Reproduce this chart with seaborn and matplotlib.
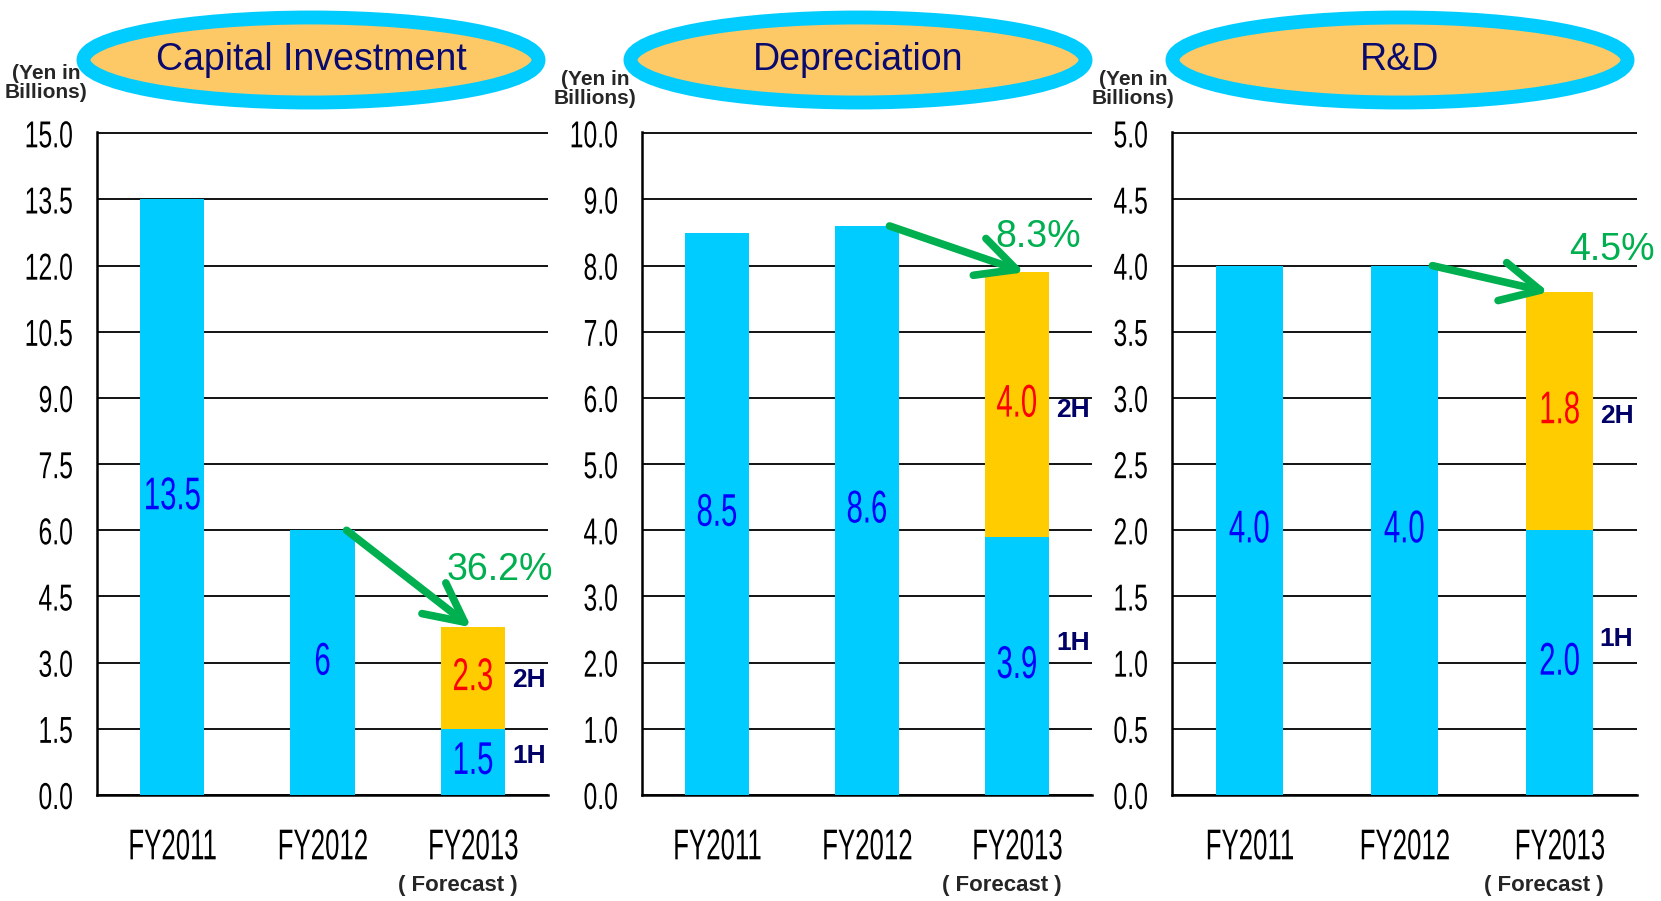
import numpy as np
import pandas as pd
import seaborn as sns
import matplotlib.pyplot as plt
from matplotlib.patches import Ellipse
from matplotlib.patheffects import AbstractPathEffect
from matplotlib.transforms import Affine2D

# ---- data ----
categories = ['FY2011', 'FY2012', 'FY2013']
titles = ['Capital Investment', 'Depreciation', 'R&D']

# full year for FY2011 / FY2012, first half for FY2013
capex_first = [13.5, 6.0, 1.5]
capex_second = [0.0, 0.0, 2.3]
capex_labels = ['13.5', '6', '1.5', '2.3']

depr_first = [8.5, 8.6, 3.9]
depr_second = [0.0, 0.0, 4.0]
depr_labels = ['8.5', '8.6', '3.9', '4.0']

rnd_first = [4.0, 4.0, 2.0]
rnd_second = [0.0, 0.0, 1.8]
rnd_labels = ['4.0', '4.0', '2.0', '1.8']

pct_change = ['36.2%', '8.3%', '4.5%']

y_max = [15.0, 10.0, 5.0]
y_step = [1.5, 1.0, 0.5]

# ---- style ----
CYAN = '#00ccff'
ORANGE = '#ffcc00'
ELLIPSE_FILL = '#fcc966'
NAVY = '#0a0a6e'
GREEN = '#00b050'
BLUE = '#0000ff'
RED = '#ff0000'

sns.set_style('white')
plt.rcParams['font.family'] = ['Liberation Sans', 'DejaVu Sans']
SANS = ['Liberation Sans', 'DejaVu Sans']


# numbers in the original use a tall, very condensed face:
# squeeze the glyphs horizontally when drawing
class Squeeze(AbstractPathEffect):
    def __init__(self, sx=0.6, anchor='center'):
        super().__init__()
        self.sx = sx
        self.anchor = anchor

    def draw_path(self, renderer, gc, tpath, affine, rgbFace=None):
        ext = tpath.get_extents(affine)
        cx = ext.x1 if self.anchor == 'right' else (ext.x0 + ext.x1) / 2
        aff = affine + Affine2D().translate(-cx, 0).scale(self.sx, 1).translate(cx, 0)
        renderer.draw_path(gc, tpath, aff, rgbFace)


SQ_TICK = [Squeeze(0.66, 'right')]
SQ_CAT = [Squeeze(0.6, 'center')]
SQ_VAL = [Squeeze(0.64, 'center')]

W, H = 1661, 901
fig = plt.figure(figsize=(W / 100, H / 100), dpi=100)

axes_px = [(97, 548), (642, 1092), (1172, 1637)]
top_px, bottom_px = 132, 795
ellipse_cx = [311, 858, 1400]
unit_pos = [(46, 83), (595, 89), (1133, 89)]
pct_pos = [(2.18, 5.11), (2.14, 8.43), (2.34, 4.12)]
arrow_x = [(1.16, 1.99), (1.15, 2.05), (1.18, 1.93)]

panels = [
    (capex_first, capex_second, capex_labels),
    (depr_first, depr_second, depr_labels),
    (rnd_first, rnd_second, rnd_labels),
]

for i, (first, second, labels) in enumerate(panels):
    l, r = axes_px[i]
    ax = fig.add_axes([l / W, 1 - bottom_px / H, (r - l) / W, (bottom_px - top_px) / H])

    df = pd.DataFrame({'period': categories,
                       'first': first,
                       'total': np.add(first, second)})

    sns.barplot(data=df, x='period', y='total', color=ORANGE, saturation=1,
                width=0.43, linewidth=0, ax=ax, zorder=2)
    sns.barplot(data=df, x='period', y='first', color=CYAN, saturation=1,
                width=0.43, linewidth=0, ax=ax, zorder=3)

    # axes look
    ax.set_xlim(-0.5, 2.5)
    ax.set_ylim(0, y_max[i] * 1.002)
    yt = np.arange(0, y_max[i] + y_step[i] / 2, y_step[i])
    ax.set_yticks(yt)
    ax.set_yticklabels([f'{v:.1f}' for v in yt])
    ax.set_axisbelow(True)
    ax.yaxis.grid(True, color='black', lw=1.3)
    ax.xaxis.grid(False)
    ax.set_xlabel('')
    ax.set_ylabel('')
    ax.spines[['top', 'right']].set_visible(False)
    for s in ['left', 'bottom']:
        ax.spines[s].set_color('black')
        ax.spines[s].set_linewidth(1.8)

    ax.set_xticks(range(len(categories)))
    ax.set_xticklabels(categories)
    ax.set_xticks([0.5, 1.5, 2.5], minor=True)
    ax.tick_params(axis='x', which='major', length=0, pad=24, labelsize=31, colors='black')
    ax.tick_params(axis='x', which='minor', direction='in', length=8.5, width=1.6, color='black')
    ax.tick_params(axis='y', length=0, pad=17, labelsize=27, colors='black')
    for t in ax.get_yticklabels():
        t.set_path_effects(SQ_TICK)
    for t in ax.get_xticklabels():
        t.set_path_effects(SQ_CAT)

    # value labels
    for j, v in enumerate(first):
        ax.text(j, v / 2, labels[j], ha='center', va='center', color=BLUE,
                fontsize=33, zorder=5, path_effects=SQ_VAL)
    ax.text(2, first[2] + second[2] / 2, labels[3], ha='center', va='center',
            color=RED, fontsize=33, zorder=5, path_effects=SQ_VAL)

    # half-year markers
    ax.text(2.26, first[2] * 0.59, '1H', ha='left', va='center', color='#000066',
            fontsize=19, fontweight='bold', family=SANS)
    ax.text(2.26, first[2] + second[2] * 0.48, '2H', ha='left', va='center',
            color='#000066', fontsize=19, fontweight='bold', family=SANS)

    ax.text(1.9, -0.137, '( Forecast )', transform=ax.get_xaxis_transform(),
            ha='center', va='center', fontsize=16, fontweight='bold', family=SANS)

    # change arrow + percent
    x0, x1 = arrow_x[i]
    ax.annotate('', xy=(x1, first[2] + second[2]), xytext=(x0, first[1]),
                arrowprops=dict(arrowstyle='->,head_length=1.4,head_width=0.7',
                                color=GREEN, lw=5.5, mutation_scale=20,
                                shrinkA=0, shrinkB=0, capstyle='round',
                                joinstyle='round'),
                zorder=6, annotation_clip=False)
    ax.text(pct_pos[i][0], pct_pos[i][1], pct_change[i], ha='center', va='center',
            color=GREEN, fontsize=27, family=SANS, zorder=6)

    # title bubble
    fig.add_artist(Ellipse((ellipse_cx[i] / W, 1 - 60 / H), 455 / W, 85 / H,
                           transform=fig.transFigure, facecolor=ELLIPSE_FILL,
                           edgecolor=CYAN, lw=10))
    fig.text(ellipse_cx[i] / W, 1 - 60 / H, titles[i], ha='center', va='center',
             fontsize=27, color=NAVY, family=SANS)

    ux, uy = unit_pos[i]
    fig.text(ux / W, 1 - uy / H, '(Yen in\nBillions)', ha='center', va='center',
             fontsize=15, fontweight='bold', family=SANS, linespacing=1.0)

fig.savefig('out.png', dpi=100)
